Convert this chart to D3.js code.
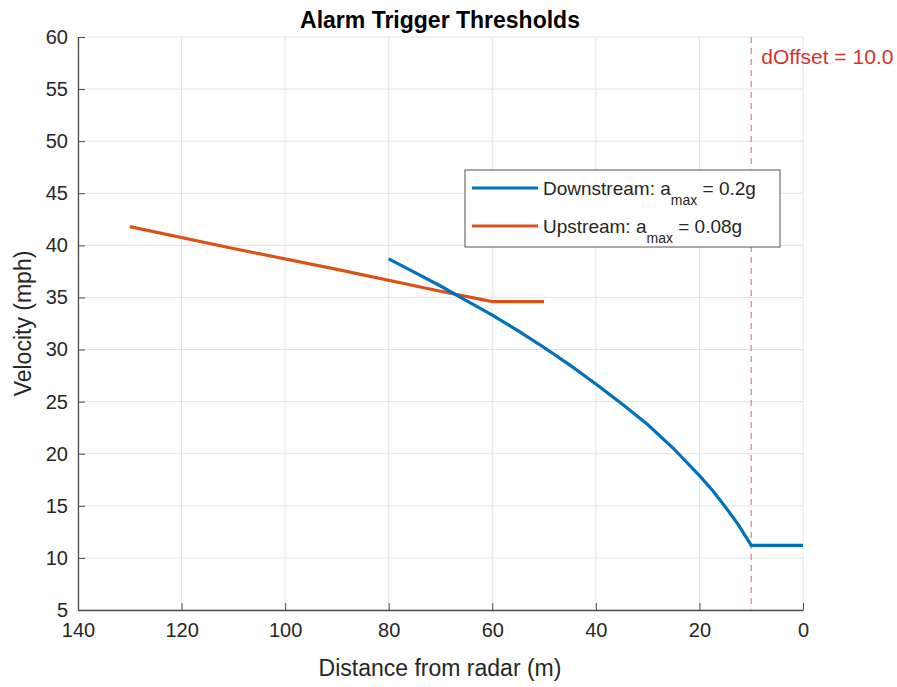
<!DOCTYPE html>
<html>
<head>
<meta charset="utf-8">
<script src="https://cdn.jsdelivr.net/npm/d3@7"></script>
<style>
  body { margin: 0; background: #fff; }
  text { font-family: "Liberation Sans", Arial, Helvetica, sans-serif; }
</style>
</head>
<body>
<svg id="chart" width="897" height="687"></svg>
<script>
// values
const downDist = [80, 75, 70, 65, 60, 55, 50, 45, 40, 35, 30, 25, 20, 17.5, 15, 12.5, 10, 0];
const downVel  = [38.7, 37.4, 36.1, 34.7, 33.3, 31.8, 30.2, 28.5, 26.7, 24.8, 22.8, 20.5, 17.9, 16.5, 14.9, 13.2, 11.2, 11.2];
const upDist = [130, 110, 90, 70, 60, 50];
const upVel  = [41.8, 39.7, 37.7, 35.6, 34.6, 34.6];
const xTicks = [140, 120, 100, 80, 60, 40, 20, 0];
const yTicks = [5, 10, 15, 20, 25, 30, 35, 40, 45, 50, 55, 60];
const dOffset = 10;

const svg = d3.select('#chart');
const pLeft = 78, pRight = 803, pTop = 37, pBottom = 610;

const x = d3.scaleLinear().domain([140, 0]).range([pLeft, pRight]);
const y = d3.scaleLinear().domain([5, 60]).range([pBottom, pTop]);

// grid
const grid = svg.append('g').attr('stroke', '#e3e3e3').attr('stroke-width', 1);
grid.selectAll('line.gx')
  .data(xTicks)
  .enter()
  .append('line')
  .attr('x1', d => x(d)).attr('x2', d => x(d))
  .attr('y1', pTop).attr('y2', pBottom);
grid.selectAll('line.gy')
  .data(yTicks)
  .enter()
  .append('line')
  .attr('y1', d => y(d)).attr('y2', d => y(d))
  .attr('x1', pLeft).attr('x2', pRight);

// axes (ticks point inward, like matlab)
const axColor = '#4d4d4d';
const xAxis = svg.append('g')
  .attr('transform', `translate(0,${pBottom})`)
  .call(d3.axisBottom(x).tickValues(xTicks).tickSizeInner(-7).tickSizeOuter(0).tickPadding(13));
const yAxis = svg.append('g')
  .attr('transform', `translate(${pLeft},0)`)
  .call(d3.axisLeft(y).tickValues(yTicks).tickSizeInner(-7).tickSizeOuter(0).tickPadding(10));
[xAxis, yAxis].forEach(a => {
  a.select('.domain').attr('stroke', axColor).attr('stroke-width', 1.3);
  a.selectAll('.tick line').attr('stroke', axColor);
  a.selectAll('.tick text')
    .attr('fill', '#262626')
    .style('font-size', '20px')
    .style('font-family', '"Liberation Sans", Arial, sans-serif');
});

// dOffset marker
svg.append('line')
  .attr('x1', x(dOffset)).attr('x2', x(dOffset))
  .attr('y1', pTop).attr('y2', pBottom)
  .attr('stroke', '#d98080')
  .attr('stroke-width', 1.2)
  .attr('stroke-dasharray', '6,5');
svg.append('text')
  .attr('x', x(dOffset) + 10)
  .attr('y', 64)
  .attr('fill', '#d9312f')
  .style('font-size', '21px')
  .text('dOffset = 10.0');

// series
const line = d3.line().x(d => x(d[0])).y(d => y(d[1]));
svg.append('path')
  .datum(upDist.map((d, i) => [d, upVel[i]]))
  .attr('d', line)
  .attr('fill', 'none')
  .attr('stroke', '#D95319')
  .attr('stroke-width', 3.2);
svg.append('path')
  .datum(downDist.map((d, i) => [d, downVel[i]]))
  .attr('d', line)
  .attr('fill', 'none')
  .attr('stroke', '#0072BD')
  .attr('stroke-width', 3.2);

// legend
const lg = svg.append('g');
lg.append('rect')
  .attr('x', 465).attr('y', 170)
  .attr('width', 315).attr('height', 77)
  .attr('fill', '#fff')
  .attr('stroke', '#555')
  .attr('stroke-width', 1);
const legendItems = [
  { name: 'Downstream: a', val: ' = 0.2g', color: '#0072BD', yy: 188 },
  { name: 'Upstream: a', val: ' = 0.08g', color: '#D95319', yy: 226 }
];
legendItems.forEach(d => {
  lg.append('line')
    .attr('x1', 472).attr('x2', 538)
    .attr('y1', d.yy).attr('y2', d.yy)
    .attr('stroke', d.color).attr('stroke-width', 3.2);
  const t = lg.append('text')
    .attr('x', 543).attr('y', d.yy + 7)
    .attr('fill', '#262626')
    .style('font-size', '19px');
  t.append('tspan').text(d.name);
  t.append('tspan').attr('dy', 10).style('font-size', '14px').text('max');
  t.append('tspan').attr('dy', -10).text(d.val);
});

// titles
svg.append('text')
  .attr('x', 440).attr('y', 28)
  .attr('text-anchor', 'middle')
  .attr('fill', '#000')
  .style('font-size', '23px')
  .style('font-weight', 'bold')
  .text('Alarm Trigger Thresholds');
svg.append('text')
  .attr('x', 440).attr('y', 676)
  .attr('text-anchor', 'middle')
  .attr('fill', '#262626')
  .style('font-size', '23px')
  .text('Distance from radar (m)');
svg.append('text')
  .attr('transform', `translate(31,${(pTop + pBottom) / 2}) rotate(-90)`)
  .attr('text-anchor', 'middle')
  .attr('fill', '#262626')
  .style('font-size', '23px')
  .text('Velocity (mph)');
</script>
</body>
</html>
